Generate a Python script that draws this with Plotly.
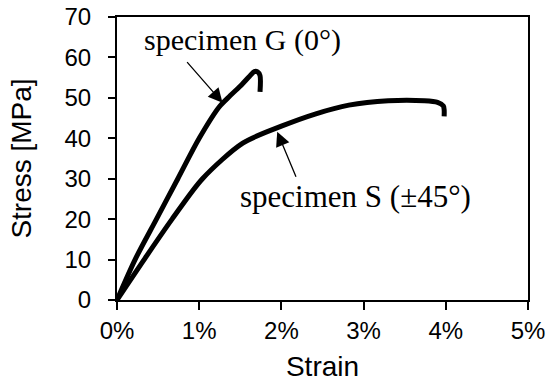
import plotly.graph_objects as go

# Data
g_strain = [0, 0.22, 0.48, 0.74, 1.0, 1.245, 1.375, 1.494, 1.61, 1.67, 1.71, 1.74, 1.74]
g_stress = [0, 10, 20, 30, 40, 47.8, 50.5, 52.8, 55.3, 56.5, 56.4, 55.5, 51.5]

s_strain = [0, 0.33, 0.67, 1.04, 1.53, 2.0, 2.41, 2.82, 3.30, 3.74, 3.90, 3.97, 3.98, 3.98]
s_stress = [0, 10, 20, 30, 38.8, 43.0, 46.0, 48.2, 49.3, 49.3, 48.9, 48.0, 47.0, 45.4]

x_ticks = [0, 1, 2, 3, 4, 5]
x_tick_labels = ["0%", "1%", "2%", "3%", "4%", "5%"]
y_ticks = [0, 10, 20, 30, 40, 50, 60, 70]

label_g = "specimen G (0°)"
label_s = "specimen S (±45°)"

fig = go.Figure()
fig.add_trace(go.Scatter(x=g_strain, y=g_stress, mode="lines",
                         line=dict(color="black", width=5, shape="spline", smoothing=0.8),
                         showlegend=False))
fig.add_trace(go.Scatter(x=s_strain, y=s_stress, mode="lines",
                         line=dict(color="black", width=5, shape="spline", smoothing=0.8),
                         showlegend=False))

serif_family = "Liberation Serif, Times New Roman, serif"

fig.add_annotation(x=0.31, y=64.3, xref="x", yref="y", text=label_g, showarrow=False,
                   xanchor="left", yanchor="middle",
                   font=dict(family=serif_family, size=30, color="black"))
fig.add_annotation(x=1.47, y=25.7, xref="x", yref="y", text=label_s, showarrow=False,
                   xanchor="left", yanchor="middle",
                   font=dict(family=serif_family, size=31, color="black"))

# arrows
fig.add_annotation(x=1.284, y=48.8, ax=0.837, ay=59.2, xref="x", yref="y", axref="x", ayref="y",
                   text="", showarrow=True, arrowhead=2, arrowsize=2.2, arrowwidth=1.3,
                   arrowcolor="black", standoff=0)
fig.add_annotation(x=1.949, y=41.6, ax=2.185, ay=30.1, xref="x", yref="y", axref="x", ayref="y",
                   text="", showarrow=True, arrowhead=2, arrowsize=2.2, arrowwidth=1.3,
                   arrowcolor="black", standoff=0)

sans = "Liberation Sans, Arial, sans-serif"
fig.update_xaxes(range=[0, 5], tickvals=x_ticks, ticktext=x_tick_labels,
                 showline=True, linecolor="black", linewidth=2, mirror=True,
                 ticks="outside", ticklen=8, tickwidth=2, tickcolor="black",
                 showgrid=False, zeroline=False, automargin=False,
                 ticklabeloverflow="allow",
                 tickfont=dict(family=sans, size=24, color="black"),
                 title=dict(text="Strain", font=dict(family=sans, size=28, color="black"), standoff=14),
                 ticklabelstandoff=0)
fig.update_yaxes(range=[0, 70], tickvals=y_ticks,
                 showline=True, linecolor="black", linewidth=2, mirror=True,
                 ticks="outside", ticklen=7, tickwidth=2, tickcolor="black",
                 showgrid=False, zeroline=False, automargin=False,
                 ticklabeloverflow="allow",
                 tickfont=dict(family=sans, size=24, color="black"),
                 title=dict(text="Stress [MPa]", font=dict(family=sans, size=28, color="black"), standoff=25),
                 ticklabelstandoff=12)

fig.update_layout(width=550, height=385, margin=dict(l=117, r=22, t=17, b=85),
                  plot_bgcolor="white", paper_bgcolor="white")

# remove the default 8px page margin so the 550x385 figure fills the window
fig.write_html("out.html",
               config=dict(displayModeBar=False),
               post_script="document.body.style.margin='0';document.body.style.overflow='hidden';")
